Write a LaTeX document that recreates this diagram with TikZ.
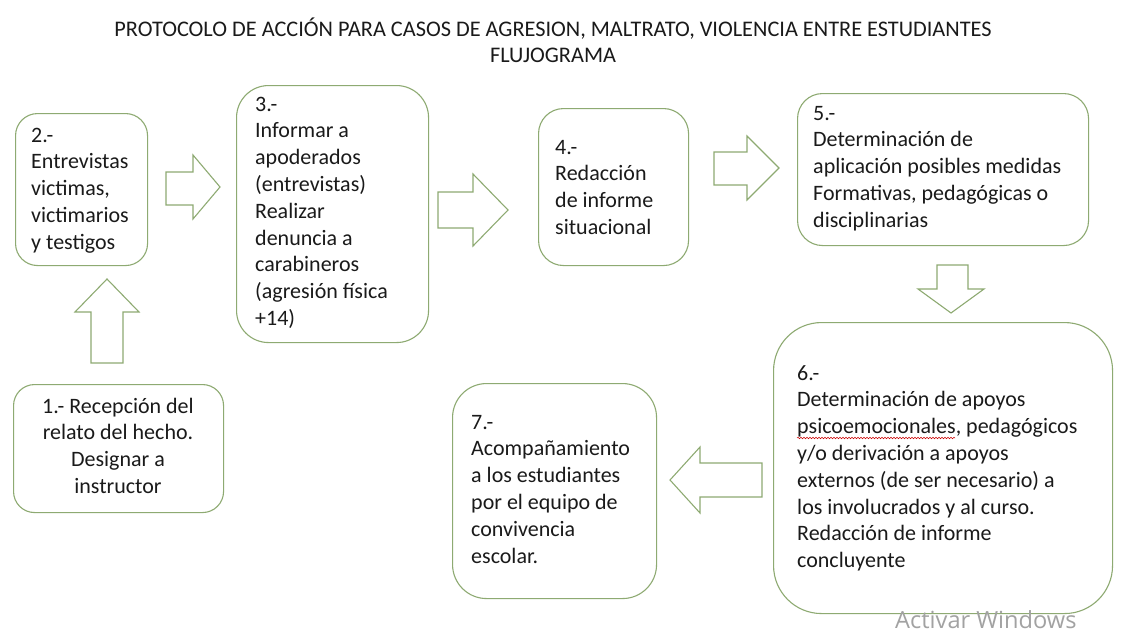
\documentclass[tikz,border=0pt]{standalone}
\usepackage{fontspec}
\setmainfont{Carlito}
\newfontfamily\wmfont{Open Sans}
\usetikzlibrary{decorations.pathmorphing}
\definecolor{boxgreen}{HTML}{8EAA72}
\definecolor{wmgray}{HTML}{A2A2A2}
\definecolor{txt}{HTML}{1A1A1A}
\begin{document}
\begin{tikzpicture}[x=1pt,y=-1pt,
  box/.style={draw=boxgreen,line width=1.1pt,anchor=north west,inner sep=0pt},
  barrow/.style={draw=boxgreen,line width=1.1pt,line join=miter,fill=white},
  body/.style={anchor=base west,inner sep=0pt,text width=#1,align=flush left,
    font=\fontsize{22}{26.8}\selectfont,text=txt},
  body/.default=320pt,
  ttl/.style={anchor=base,inner sep=0pt,font=\fontsize{22.3}{26}\selectfont,text=txt}]
\useasboundingbox[fill=white] (0,0) rectangle (1131,642);
% title
\node[ttl] (t1) at (553,37) {PROTOCOLO DE ACCIÓN PARA CASOS DE AGRESION, MALTRATO, VIOLENCIA ENTRE ESTUDIANTES};
\node[ttl] (t2) at (553,63) {FLUJOGRAMA};
% boxes
\node[box,minimum width=210pt,minimum height=128pt,rounded corners=21pt] (b1) at (13,384) {};
\node[box,minimum width=132pt,minimum height=152pt,rounded corners=22pt] (b2) at (15,113) {};
\node[box,minimum width=192pt,minimum height=257pt,rounded corners=32pt] (b3) at (236,85) {};
\node[box,minimum width=150pt,minimum height=157pt,rounded corners=25pt] (b4) at (538,108) {};
\node[box,minimum width=291pt,minimum height=152pt,rounded corners=25pt] (b5) at (797,93) {};
\node[box,minimum width=339pt,minimum height=291pt,rounded corners=48pt] (b6) at (773,322) {};
\node[box,minimum width=204pt,minimum height=215pt,rounded corners=34pt] (b7) at (452,383) {};
% texts
\node[anchor=base,inner sep=0pt,text width=200pt,align=flush center,font=\fontsize{22}{26.8}\selectfont,text=txt] (x1) at (118,413)
  {1.- Recepción del\\relato del hecho.\\Designar a\\instructor};
\node[body] (x2) at (31,142) {2.-\\Entrevistas\\victimas,\\victimarios\\y testigos};
\node[body] (x3) at (255,111) {3.-\\Informar a\\apoderados\\(entrevistas)\\Realizar\\denuncia a\\carabineros\\(agresión física\\+14)};
\node[body] (x4) at (555,154) {4.-\\Redacción\\de informe\\situacional};
\node[body] (x5) at (813,120) {5.-\\Determinación de\\aplicación posibles medidas\\Formativas, pedagógicas o\\disciplinarias};
\node[body] (x6) at (797,380) {6.-\\Determinación de apoyos\\psicoemocionales, pedagógicos\\y/o derivación a apoyos\\externos (de ser necesario) a\\los involucrados y al curso.\\Redacción de informe\\concluyente};
\node[body] (x7) at (471,429) {7.-\\Acompañamiento\\a los estudiantes\\por el equipo de\\convivencia\\escolar.};
% spell-check underline
\draw[red!80!black,line width=0.5pt,decorate,decoration={snake,amplitude=0.8pt,segment length=3pt}]
  (797,438) -- (955,438);
% block arrows
\draw[barrow] (91,363) -- (91,312) -- (75,312) -- (107,279) -- (139,312) -- (123,312) -- (123,363) -- cycle;
\draw[barrow] (166,172) -- (193,172) -- (193,155) -- (220,187) -- (193,219) -- (193,205) -- (166,205) -- cycle;
\draw[barrow] (438,192) -- (473,192) -- (473,174) -- (508,210) -- (473,246) -- (473,228) -- (438,228) -- cycle;
\draw[barrow] (714,152) -- (747,152) -- (747,136) -- (779,168) -- (747,200) -- (747,185) -- (714,185) -- cycle;
\draw[barrow] (937,265) -- (968,265) -- (968,289) -- (984,289) -- (951,313) -- (918,289) -- (937,289) -- cycle;
\draw[barrow] (762,463) -- (700,463) -- (700,447) -- (670,480) -- (700,513) -- (700,497) -- (762,497) -- cycle;
% watermark
\node[anchor=base west,inner sep=0pt,font=\wmfont\fontsize{23.6}{27}\selectfont,text=wmgray] (wm) at (895,628) {Activar Windows};
\end{tikzpicture}
\end{document}
